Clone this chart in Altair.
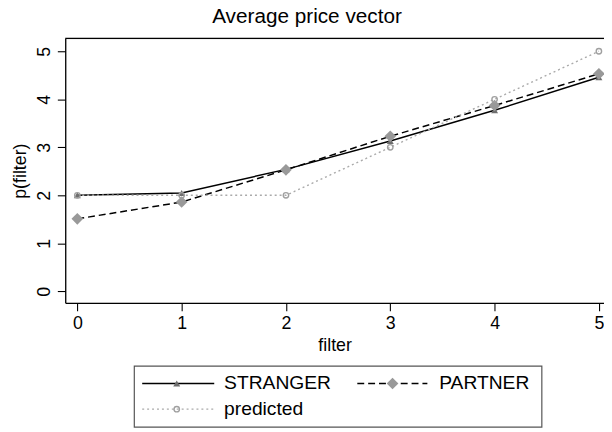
import altair as alt
import pandas as pd

# ---- data ----
filters = [0, 1, 2, 3, 4, 5]
stranger = [2.0, 2.05, 2.54, 3.13, 3.77, 4.46]
partner = [1.51, 1.86, 2.53, 3.23, 3.87, 4.53]
predicted = [2, 2, 2, 3, 4, 5]
x_ticks = [0, 1, 2, 3, 4, 5]
y_ticks = [0, 1, 2, 3, 4, 5]
series_names = ["STRANGER", "PARTNER", "predicted"]

rows = []
for name, vals in zip(series_names, [stranger, partner, predicted]):
    for f, v in zip(filters, vals):
        rows.append({"filter": f, "p": v, "series": name})
df = pd.DataFrame(rows)

FONT = "Liberation Sans"
W, H = 546, 268

xs = alt.Scale(domain=[-0.116, 5.049], nice=False, zero=False)
ys = alt.Scale(domain=[-0.24, 5.267], nice=False, zero=False)

x_enc = alt.X("filter:Q", scale=xs, axis=alt.Axis(
    values=x_ticks, title="filter", grid=False, domainColor="black", domainWidth=1.3,
    tickColor="black", tickSize=8, tickWidth=1.1, labelFontSize=18, labelFont=FONT,
    labelColor="black", labelPadding=4, titleFontSize=18, titleFont=FONT,
    titleFontWeight="normal", titleColor="black", titlePadding=4, labelFlush=False))
y_enc = alt.Y("p:Q", scale=ys, axis=alt.Axis(
    values=y_ticks, title="p(filter)", grid=False, domainColor="black", domainWidth=1.3,
    tickColor="black", tickSize=8, tickWidth=1.1, labelFontSize=18, labelFont=FONT,
    labelColor="black", labelAngle=270, labelAlign="center", labelBaseline="bottom",
    labelPadding=4, titleFontSize=18, titleFont=FONT, titleFontWeight="normal",
    titleColor="black", titlePadding=6, labelFlush=False))

base = alt.Chart(df).encode(x=x_enc, y=y_enc)

def sel(name):
    return alt.datum.series == name

s_line = base.transform_filter(sel("STRANGER")).mark_line(color="black", strokeWidth=1.5)
p_line = base.transform_filter(sel("PARTNER")).mark_line(color="black", strokeWidth=1.5, strokeDash=[7, 4])
q_line = base.transform_filter(sel("predicted")).mark_line(color="#aaaaaa", strokeWidth=1.4, strokeDash=[2, 3])
s_pts = base.transform_filter(sel("STRANGER")).mark_point(shape="triangle-up", filled=True, color="#6e6e6e", size=50, opacity=1)
p_pts = base.transform_filter(sel("PARTNER")).mark_point(shape="diamond", filled=True, color="#999999", size=140, opacity=1)
q_pts = base.transform_filter(sel("predicted")).mark_point(shape="circle", filled=False, color="#a0a0a0", size=30, strokeWidth=1.4, opacity=1)

one = pd.DataFrame({"k": [0]})

top_rule = alt.Chart(one).mark_rule(color="black", strokeWidth=1.3).encode(
    x=alt.value(0), x2=alt.value(W), y=alt.value(0))

# ---- legend drawn below the plot ----
LX0, LX1, LY0, LY1 = 70, 483, 332, 394
R1, R2 = 349.7, 375.7
box = alt.Chart(one).mark_rect(fill="white", stroke="#555555", strokeWidth=1.2).encode(
    x=alt.value(LX0), x2=alt.value(LX1), y=alt.value(LY0), y2=alt.value(LY1))

def leg_line(x0, x1, y, **kw):
    return alt.Chart(one).mark_rule(**kw).encode(x=alt.value(x0), x2=alt.value(x1), y=alt.value(y))

def leg_pt(x, y, **kw):
    return alt.Chart(one).mark_point(opacity=1, **kw).encode(x=alt.value(x), y=alt.value(y))

def leg_txt(x, y, t):
    return alt.Chart(one).mark_text(align="left", baseline="middle", fontSize=19.5, font=FONT, color="black").encode(
        x=alt.value(x), y=alt.value(y), text=alt.value(t))

legend_layers = [
    box,
    leg_line(78, 151, R1, color="black", strokeWidth=1.5),
    leg_pt(113, R1, shape="triangle-up", filled=True, color="#6e6e6e", size=50),
    leg_txt(161, R1, series_names[0]),
    leg_line(296, 367, R1, color="black", strokeWidth=1.5, strokeDash=[7, 4]),
    leg_pt(331.7, R1, shape="diamond", filled=True, color="#999999", size=140),
    leg_txt(379, R1, series_names[1]),
    leg_line(78, 151, R2, color="#aaaaaa", strokeWidth=1.4, strokeDash=[2, 3]),
    leg_pt(113, R2, shape="circle", filled=False, color="#a0a0a0", size=30, strokeWidth=1.4),
    leg_txt(161, R2, series_names[2]),
]

chart = alt.layer(
    s_line, p_line, q_line, s_pts, p_pts, q_pts, top_rule, *legend_layers
).properties(
    width=W, height=H,
    title=alt.TitleParams("Average price vector", fontSize=21, font=FONT, fontWeight="normal",
                          color="black", anchor="middle", offset=11, dx=-28),
    autosize=alt.AutoSizeParams(type="none"),
    padding={"left": 58, "top": 28, "right": 0, "bottom": 127},
).configure_view(stroke=None).configure(background="white")

chart.save("out.html", embed_options={"renderer": "svg", "actions": False})
